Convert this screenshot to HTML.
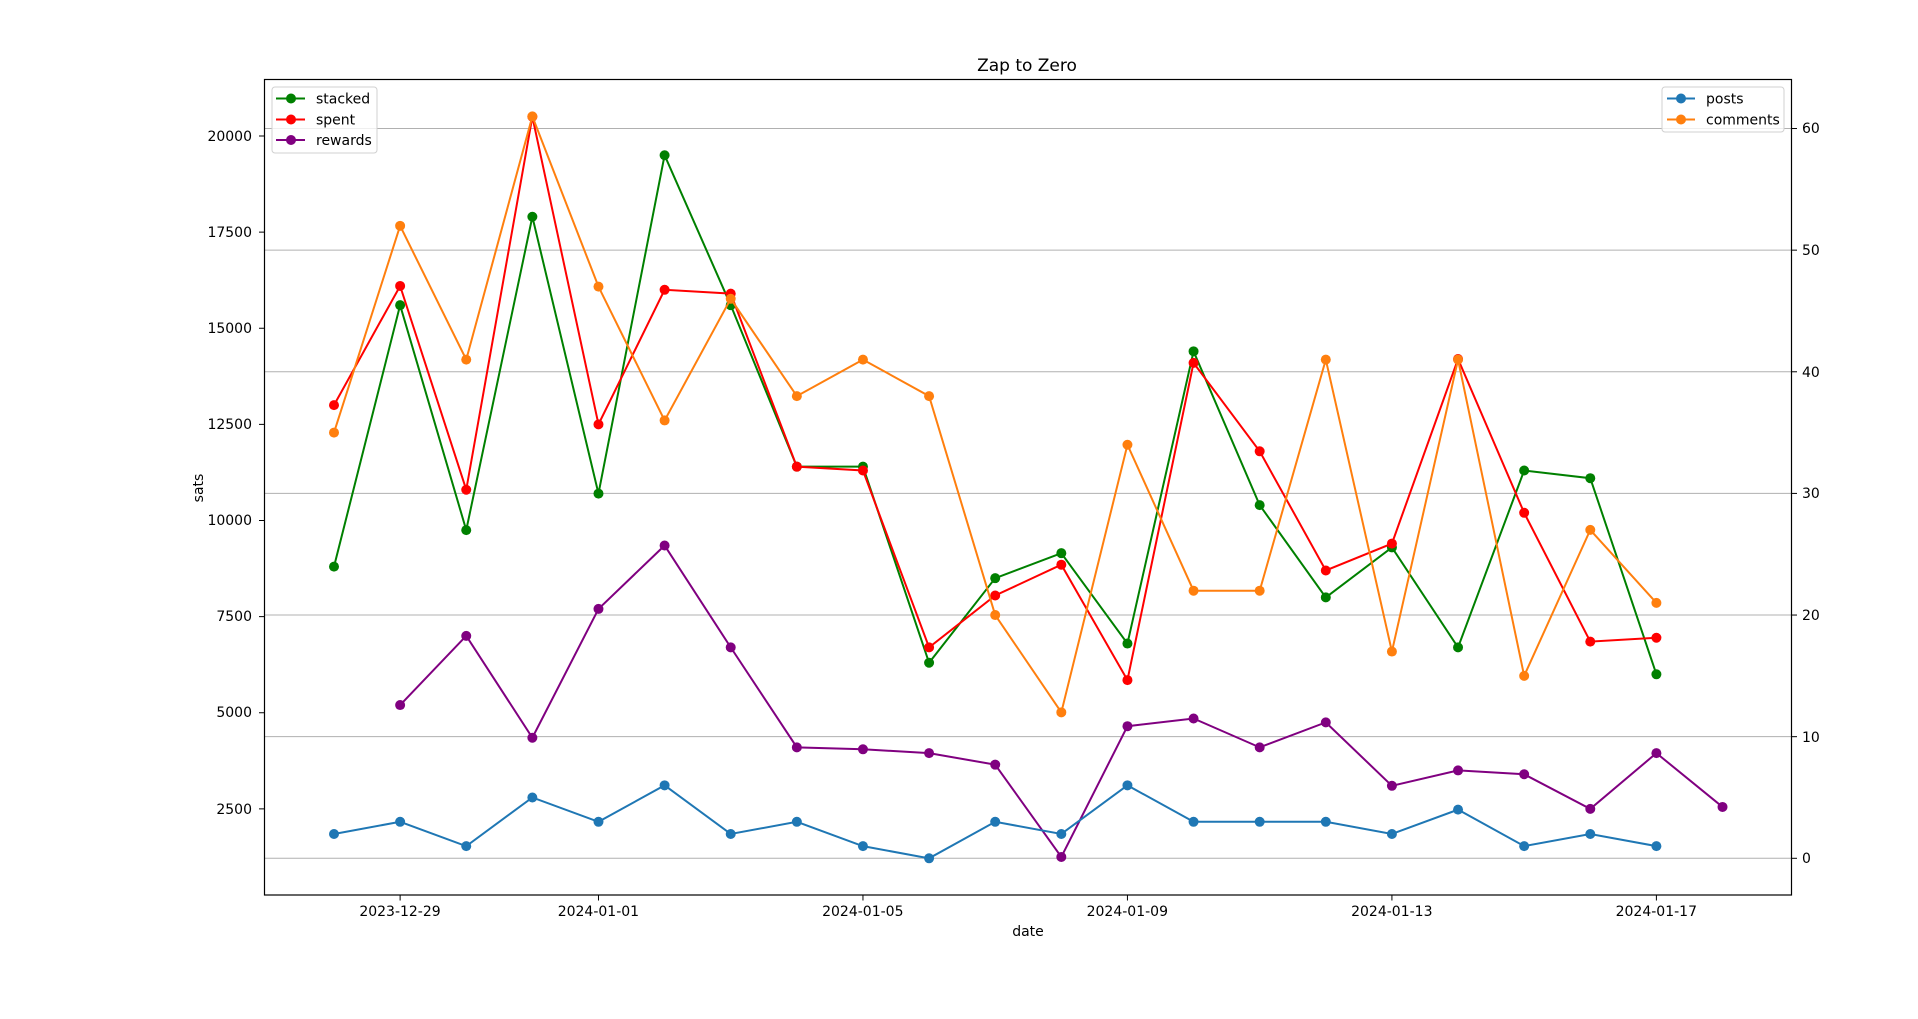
<!DOCTYPE html>
<html><head><meta charset="utf-8"><style>
html,body{margin:0;padding:0;background:#fff;}
svg{display:block;font-family:"DejaVu Sans","Liberation Sans",sans-serif;}
</style></head><body>
<svg id="c" width="1918" height="1019" viewBox="0 0 1918 1019" xmlns="http://www.w3.org/2000/svg">
<rect width="1918" height="1019" fill="#fff"/>
<g id="grid" stroke="#b0b0b0" stroke-width="1"></g>
<g id="series"></g>
<rect x="264.5" y="79.5" width="1527" height="815.5" fill="none" stroke="#000" stroke-width="1.2"/>
<g id="ticks" stroke="#000" stroke-width="1"></g>
<g font-size="14" fill="#000">
<text x="1027" y="71" font-size="17" text-anchor="middle">Zap to Zero</text>
<text x="1028" y="936" text-anchor="middle">date</text>
<text transform="translate(203,488) rotate(-90)" text-anchor="middle">sats</text>
<g text-anchor="end">
<text x="252" y="141">20000</text>
<text x="252" y="237">17500</text>
<text x="252" y="333">15000</text>
<text x="252" y="429">12500</text>
<text x="252" y="525">10000</text>
<text x="252" y="621">7500</text>
<text x="252" y="717">5000</text>
<text x="252" y="814">2500</text>
</g>
<g text-anchor="start">
<text x="1802" y="863">0</text>
<text x="1802" y="742">10</text>
<text x="1802" y="620">20</text>
<text x="1802" y="498">30</text>
<text x="1802" y="377">40</text>
<text x="1802" y="255">50</text>
<text x="1802" y="133">60</text>
</g>
<g text-anchor="middle">
<text x="400" y="916">2023-12-29</text>
<text x="598.4" y="916">2024-01-01</text>
<text x="862.8" y="916">2024-01-05</text>
<text x="1127.3" y="916">2024-01-09</text>
<text x="1391.8" y="916">2024-01-13</text>
<text x="1656.3" y="916">2024-01-17</text>
</g>
</g>
<g>
<rect x="272" y="87" width="105" height="66" rx="3" fill="#fff" fill-opacity="0.8" stroke="#d0d0d0"/>
<line x1="276" y1="98.5" x2="305" y2="98.5" stroke="green" stroke-width="2"/><circle cx="291" cy="98.5" r="5" fill="green"/>
<line x1="276" y1="119.5" x2="305" y2="119.5" stroke="red" stroke-width="2"/><circle cx="291" cy="119.5" r="5" fill="red"/>
<line x1="276" y1="140" x2="305" y2="140" stroke="purple" stroke-width="2"/><circle cx="291" cy="140" r="5" fill="purple"/>
<g font-size="14"><text x="316" y="103.5">stacked</text><text x="316" y="124.5">spent</text><text x="316" y="145">rewards</text></g>
<rect x="1662" y="87" width="122" height="45" rx="3" fill="#fff" fill-opacity="0.8" stroke="#d0d0d0"/>
<line x1="1667" y1="98.5" x2="1695" y2="98.5" stroke="#1f77b4" stroke-width="2"/><circle cx="1681" cy="98.5" r="5" fill="#1f77b4"/>
<line x1="1667" y1="119.5" x2="1695" y2="119.5" stroke="#ff7f0e" stroke-width="2"/><circle cx="1681" cy="119.5" r="5" fill="#ff7f0e"/>
<g font-size="14"><text x="1706" y="103.5">posts</text><text x="1706" y="124.5">comments</text></g>
</g>
</svg>
<script>
var NS="http://www.w3.org/2000/svg";
function X(i){return 334+i*66.12;}
function YL(v){return 136+(20000-v)*0.03845;}
function YR(v){return 858.3-v*12.163;}
var g=document.getElementById('grid'),t=document.getElementById('ticks'),s=document.getElementById('series');
function ln(p,a,b,c,d){var l=document.createElementNS(NS,'line');l.setAttribute('x1',a);l.setAttribute('y1',b);l.setAttribute('x2',c);l.setAttribute('y2',d);p.appendChild(l);}
for(var k=0;k<=60;k+=10){var y=YR(k);ln(g,264.5,y,1791.5,y);ln(t,1791.5,y,1797,y);}
for(var v=2500;v<=20000;v+=2500){var y=YL(v);ln(t,259,y,264.5,y);}
[1,4,8,12,16,20].forEach(function(i){ln(t,X(i),895,X(i),900.5);});
function ser(data,start,fy,col){
 var pts=[];data.forEach(function(v,j){pts.push([X(j+start),fy(v)]);});
 var pl=document.createElementNS(NS,'polyline');pl.setAttribute('points',pts.map(function(p){return p.join(',')}).join(' '));
 pl.setAttribute('fill','none');pl.setAttribute('stroke',col);pl.setAttribute('stroke-width','2');s.appendChild(pl);
 pts.forEach(function(p){var c=document.createElementNS(NS,'circle');c.setAttribute('cx',p[0]);c.setAttribute('cy',p[1]);c.setAttribute('r','5');c.setAttribute('fill',col);s.appendChild(c);});
}
ser([8800,15600,9750,17900,10700,19500,15600,11400,11400,6300,8500,9150,6800,14400,10400,8000,9300,6700,11300,11100,6000],0,YL,'green');
ser([13000,16100,10800,20500,12500,16000,15900,11400,11300,6700,8050,8850,5850,14100,11800,8700,9400,14200,10200,6850,6950],0,YL,'red');
ser([5200,7000,4350,7700,9350,6700,4100,4050,3950,3650,1250,4650,4850,4100,4750,3100,3500,3400,2500,3950,2550],1,YL,'purple');
ser([2,3,1,5,3,6,2,3,1,0,3,2,6,3,3,3,2,4,1,2,1],0,YR,'#1f77b4');
ser([35,52,41,61,47,36,46,38,41,38,20,12,34,22,22,41,17,41,15,27,21],0,YR,'#ff7f0e');
</script>
</body></html>
